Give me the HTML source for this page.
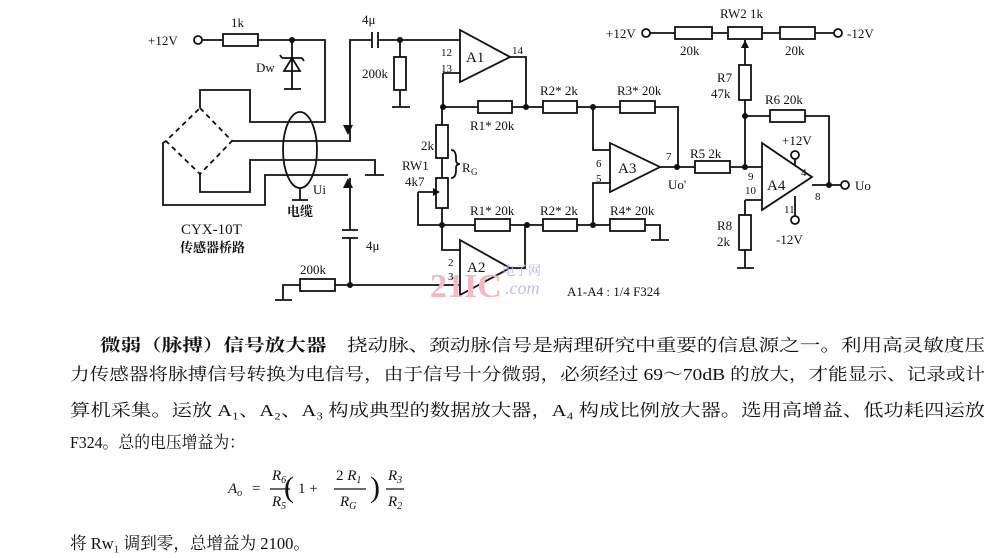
<!DOCTYPE html>
<html><head><meta charset="utf-8"><style>
html,body{margin:0;padding:0;background:#fff;}
svg{display:block}
text{font-family:"Liberation Serif","Noto Serif CJK SC",serif;fill:#111}
.s{font-size:13px}
.c{font-family:"Liberation Serif","Noto Serif CJK SC",serif;font-size:17px}
</style></head><body>
<svg width="992" height="558" viewBox="0 0 992 558" xmlns="http://www.w3.org/2000/svg">
<g stroke="#111" stroke-width="1.8" fill="none">
<!-- +12V supply to bridge -->
<circle cx="198" cy="40" r="4"/>
<path d="M202 40H223M258 40H325V122H250V90H200V108"/>
<rect x="223" y="34" width="35" height="12"/>
<!-- zener -->
<path d="M292 40V90M284 89H301"/>
<path d="M284 71L292 58L300 71Z"/>
<path d="M282 58H302M282 58L280 55M302 58L304 61"/>
<!-- bridge -->
<path d="M200 108L232 141L200 174L166 141Z" stroke-dasharray="5,4"/>
<path d="M166 141L163 143V205H265V175H348"/>
<path d="M232 141H350V40H372M378 40H460"/>
<path d="M372 32V48M378 32V48"/>
<path d="M200 174V192H250V160H375V175M365 175H384"/>
<ellipse cx="300" cy="150" rx="17" ry="38"/>
<path d="M300 188V200M292 200H308"/>
<!-- lower cap line -->
<path d="M350 178V230M350 238V285M342 230H358M342 238H358"/>
<!-- 200k to ground upper -->
<path d="M400 40V57M400 90V107M392 107H410"/>
<rect x="394" y="57" width="12" height="33"/>
<!-- A1 -->
<path d="M460 30V82L510 57Z"/>
<path d="M510 57H526V107M443 73H460M443 73V107M443 107H478M512 107H543M577 107H620M655 107H678V167"/>
<rect x="478" y="101" width="34" height="12"/>
<rect x="543" y="101" width="34" height="12"/>
<rect x="620" y="101" width="35" height="12"/>
<!-- RG -->
<path d="M442 107V125M442 158V178M442 208V225"/>
<rect x="436" y="125" width="12" height="33"/>
<rect x="436" y="178" width="12" height="30"/>
<path d="M418 192H433M418 192V225H442"/>
<path d="M451 150Q456 150 456 158V160Q456 164 460 164Q456 164 456 168V170Q456 178 451 178"/>
<path d="M442 225H475M510 225H543M577 225H610M645 225H660V240M651 240H669"/>
<rect x="475" y="219" width="35" height="12"/>
<rect x="543" y="219" width="34" height="12"/>
<rect x="610" y="219" width="35" height="12"/>
<!-- A2 -->
<path d="M460 240V295L510 268Z"/>
<path d="M442 225V250H460M510 268H525V225"/>
<path d="M350 285H460M335 285H350M300 285H283V300M275 300H292"/>
<rect x="300" y="279" width="35" height="12"/>
<!-- A3 -->
<path d="M610 143V192L660 167Z"/>
<path d="M593 107V150H610M593 225V183H610"/>
<path d="M660 167H695M730 167H762"/>
<rect x="695" y="161" width="35" height="12"/>
<!-- RW2 network -->
<circle cx="646" cy="33" r="4"/>
<circle cx="838" cy="33" r="4"/>
<path d="M650 33H675M712 33H728M762 33H780M815 33H834"/>
<rect x="675" y="27" width="37" height="12"/>
<rect x="728" y="27" width="34" height="12"/>
<rect x="780" y="27" width="35" height="12"/>
<path d="M745 40V65M745 100V167"/>
<rect x="739" y="65" width="12" height="35"/>
<path d="M745 116H770M805 116H829V185"/>
<rect x="770" y="110" width="35" height="12"/>
<!-- A4 -->
<path d="M762 143V210L812 177Z"/>
<path d="M812 185H841"/>
<circle cx="845" cy="185" r="4"/>
<path d="M745 200H762M745 200V215M745 250V268M737 268H754"/>
<rect x="739" y="215" width="12" height="35"/>
<path d="M795 159V165M795 196V216"/>
<circle cx="795" cy="155" r="4"/>
<circle cx="795" cy="220" r="4"/>
</g>
<g fill="#111">
<circle cx="292" cy="40" r="3"/><circle cx="400" cy="40" r="3"/>
<circle cx="443" cy="107" r="3"/><circle cx="526" cy="107" r="3"/>
<circle cx="593" cy="107" r="3"/><circle cx="442" cy="225" r="3"/>
<circle cx="527" cy="225" r="3"/><circle cx="593" cy="225" r="3"/>
<circle cx="350" cy="285" r="3"/><circle cx="677" cy="167" r="3"/>
<circle cx="745" cy="167" r="3"/><circle cx="745" cy="116" r="3"/>
<circle cx="829" cy="185" r="3"/>
<path d="M433 188L440 192L433 196Z"/>
<path d="M741 48L745 40L749 48Z"/>
<path d="M343 125L348 135L353 125Z"/><path d="M343 188L348 178L353 188Z"/>
</g>
<text x="430" y="297" font-size="34" font-weight="bold" style="fill:#f3b8c0">21IC</text>
<text x="502" y="275" font-size="13" style="fill:#b8b8e0">电子网</text>
<text x="505" y="294" font-size="18" font-style="italic" style="fill:#c0c0e8">.com</text>
<g class="s">
<text x="148" y="45">+12V</text><text x="231" y="27">1k</text>
<text x="256" y="72">Dw</text>
<text x="362" y="24">4μ</text><text x="362" y="78">200k</text>
<text x="441" y="56" font-size="11">12</text><text x="441" y="72" font-size="11">13</text>
<text x="466" y="62" font-size="15">A1</text><text x="512" y="54" font-size="11">14</text>
<text x="470" y="130">R1*  20k</text>
<text x="421" y="150">2k</text><text x="402" y="170">RW1</text><text x="405" y="186">4k7</text>
<text x="462" y="172">R</text><text x="471" y="175" font-size="9">G</text>
<text x="313" y="194">Ui</text>
<text x="287" y="216" font-weight="bold">电缆</text>
<text x="181" y="234" font-size="15">CYX-10T</text>
<text x="180" y="252" font-weight="bold">传感器桥路</text>
<text x="366" y="250">4μ</text>
<text x="300" y="274">200k</text>
<text x="470" y="215">R1*  20k</text>
<text x="448" y="266" font-size="11">2</text><text x="448" y="280" font-size="11">3</text>
<text x="467" y="272" font-size="15">A2</text>
<text x="540" y="95">R2*  2k</text><text x="617" y="95">R3*  20k</text>
<text x="540" y="215">R2*  2k</text><text x="610" y="215">R4*  20k</text>
<text x="596" y="167" font-size="11">6</text><text x="596" y="182" font-size="11">5</text>
<text x="618" y="173" font-size="15">A3</text>
<text x="666" y="160" font-size="11">7</text><text x="668" y="189">Uo'</text>
<text x="690" y="158">R5  2k</text>
<text x="606" y="38">+12V</text><text x="847" y="38">-12V</text>
<text x="720" y="18">RW2  1k</text><text x="680" y="55">20k</text><text x="785" y="55">20k</text>
<text x="717" y="82">R7</text><text x="711" y="98">47k</text>
<text x="765" y="104">R6  20k</text>
<text x="782" y="145">+12V</text>
<text x="748" y="180" font-size="11">9</text><text x="745" y="194" font-size="11">10</text>
<text x="767" y="190" font-size="15">A4</text>
<text x="801" y="176" font-size="11">4</text><text x="784" y="213" font-size="11">11</text>
<text x="815" y="200" font-size="11">8</text>
<text x="776" y="244">-12V</text>
<text x="855" y="190">Uo</text>
<text x="717" y="230">R8</text><text x="717" y="246">2k</text>
<text x="567" y="296">A1-A4 : 1/4 F324</text>
</g>
<g class="c">
<text x="100" y="351" textLength="885" lengthAdjust="spacingAndGlyphs"><tspan font-weight="bold">微弱（脉搏）信号放大器</tspan>　挠动脉、颈动脉信号是病理研究中重要的信息源之一。利用高灵敏度压</text>
<text x="70" y="380" textLength="915" lengthAdjust="spacingAndGlyphs">力传感器将脉搏信号转换为电信号，由于信号十分微弱，必须经过 69～70dB 的放大，才能显示、记录或计</text>
<text x="70" y="416" textLength="915" lengthAdjust="spacingAndGlyphs">算机采集。运放 A₁、A₂、A₃ 构成典型的数据放大器，A₄ 构成比例放大器。选用高增益、低功耗四运放</text>
<text x="70" y="448" textLength="175" lengthAdjust="spacingAndGlyphs">F324。总的电压增益为：</text>
<text x="70" y="549" textLength="240" lengthAdjust="spacingAndGlyphs">将 Rw₁ 调到零，总增益为 2100。</text>
</g>
<g font-size="15" font-style="italic">
<text x="228" y="493">A<tspan font-size="10" dy="3">o</tspan></text>
<text x="252" y="493" font-style="normal">=</text>
<text x="272" y="480">R<tspan font-size="10" dy="3">6</tspan></text>
<text x="272" y="506">R<tspan font-size="10" dy="3">5</tspan></text>
<text x="284" y="497" font-size="30" font-style="normal">(</text>
<text x="298" y="493" font-style="normal">1 +</text>
<text x="336" y="480"><tspan font-style="normal">2</tspan> R<tspan font-size="10" dy="3">1</tspan></text>
<text x="340" y="506">R<tspan font-size="10" dy="3">G</tspan></text>
<text x="370" y="497" font-size="30" font-style="normal">)</text>
<text x="388" y="480">R<tspan font-size="10" dy="3">3</tspan></text>
<text x="388" y="506">R<tspan font-size="10" dy="3">2</tspan></text>
</g>
<g stroke="#111" stroke-width="1.2">
<path d="M270 489H290M334 489H366M386 489H404"/>
</g>
</svg>
</body></html>
